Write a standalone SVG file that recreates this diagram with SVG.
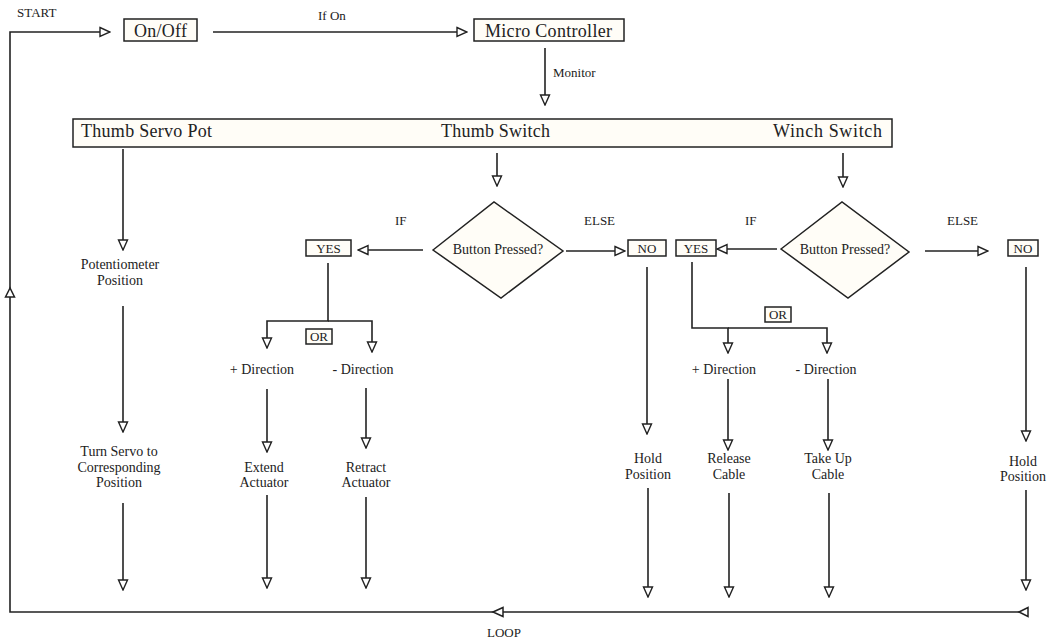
<svg xmlns="http://www.w3.org/2000/svg" width="1049" height="643" viewBox="0 0 1049 643">
<style>
text{font-family:"Liberation Serif","Times New Roman",serif;fill:#222;}
.s{font-size:13px;}
.m{font-size:14px;text-anchor:middle;}
.big{font-size:18px;}
.box{fill:#fffdf7;stroke:#222;stroke-width:1.5;}
.ln{fill:none;stroke:#222;stroke-width:1.6;}
.ar{fill:none;stroke:#222;stroke-width:1.6;marker-end:url(#ah);}
.hd{fill:#fff;stroke:#222;stroke-width:1.5;}
</style>
<defs>
<marker id="ah" viewBox="-1 -1 12 12" markerWidth="12" markerHeight="12" refX="10" refY="5" orient="auto" markerUnits="userSpaceOnUse">
<path d="M0,0.5 L10,5 L0,9.5 z" fill="#fff" stroke="#222" stroke-width="1.4"/>
</marker>
</defs>
<rect width="1049" height="643" fill="#fff"/>
<g id="connectors">
<path class="ar" d="M1027,612 H10 V32 H110"/>
<polygon class="hd" points="1019,612 1028,607.5 1028,616.5"/>
<polygon class="hd" points="493,612 503,607.5 503,616.5"/>
<polygon class="hd" points="10,288 5.5,297 14.5,297"/>
<line class="ar" x1="213" y1="32" x2="467" y2="32"/>
<line class="ar" x1="545" y1="48" x2="545" y2="105"/>
<line class="ar" x1="123" y1="149" x2="123" y2="250"/>
<line class="ar" x1="123" y1="306" x2="123" y2="432"/>
<line class="ar" x1="123" y1="503" x2="123" y2="590"/>
<line class="ar" x1="497" y1="153" x2="497" y2="186"/>
<line class="ar" x1="843" y1="153" x2="843" y2="187"/>
<line class="ar" x1="423" y1="250" x2="358" y2="250"/>
<line class="ar" x1="566" y1="251" x2="625" y2="251"/>
<path class="ar" d="M328,263 V321 H267 V348"/>
<path class="ar" d="M328,321 H372 V352"/>
<line class="ar" x1="267" y1="389" x2="267" y2="452"/>
<line class="ar" x1="366" y1="388" x2="366" y2="448"/>
<line class="ar" x1="267" y1="495" x2="267" y2="588"/>
<line class="ar" x1="366" y1="497" x2="366" y2="588"/>
<line class="ar" x1="647" y1="267" x2="647" y2="434"/>
<line class="ar" x1="648" y1="488" x2="648" y2="597"/>
<line class="ar" x1="777" y1="249" x2="717" y2="249"/>
<line class="ar" x1="925" y1="251" x2="988" y2="251"/>
<path class="ar" d="M692,262 V328 H728 V353"/>
<path class="ar" d="M728,328 H827 V353"/>
<line class="ar" x1="728" y1="379" x2="728" y2="450"/>
<line class="ar" x1="828" y1="379" x2="828" y2="450"/>
<line class="ar" x1="729" y1="493" x2="729" y2="597"/>
<line class="ar" x1="829" y1="493" x2="829" y2="597"/>
<line class="ar" x1="1026" y1="267" x2="1026" y2="441"/>
<line class="ar" x1="1026" y1="490" x2="1026" y2="590"/>
</g>
<g id="labels">
<text class="s" x="17" y="17">START</text>
<text class="s" x="318" y="20">If On</text>
<text class="s" x="553" y="77">Monitor</text>
<text class="s" x="395" y="225">IF</text>
<text class="s" x="584" y="225">ELSE</text>
<text class="s" x="745" y="225">IF</text>
<text class="s" x="947" y="225">ELSE</text>
<text class="s" x="487" y="637">LOOP</text>
</g>
<g id="onoff"><rect class="box" x="124" y="19" width="73" height="22"/><text class="big" x="134" y="37" textLength="53">On/Off</text></g>
<g id="micro"><rect class="box" x="474" y="19" width="150" height="22"/><text class="big" x="485" y="37" textLength="127">Micro Controller</text></g>
<g id="inputs"><rect class="box" x="73" y="119" width="819" height="28"/>
<text class="big" x="81" y="137" textLength="131">Thumb Servo Pot</text>
<text class="big" x="441" y="137" textLength="109">Thumb Switch</text>
<text class="big" x="773" y="137" textLength="109">Winch Switch</text></g>
<g id="pot"><text class="m" x="120" y="269">Potentiometer</text><text class="m" x="120" y="285">Position</text></g>
<g id="turnservo"><text class="m" x="119" y="456">Turn Servo to</text><text class="m" x="119" y="472">Corresponding</text><text class="m" x="119" y="487">Position</text></g>
<g id="thumbdecision"><polygon class="box" points="433,250 494,202 563,251 501,298"/><text class="m" x="498" y="254">Button Pressed?</text></g>
<g id="thumbyes"><rect class="box" x="306" y="240" width="45" height="16"/><text class="s" x="328.5" y="253" text-anchor="middle">YES</text></g>
<g id="thumbno"><rect class="box" x="628" y="240" width="38" height="16"/><text class="s" x="647" y="253" text-anchor="middle">NO</text></g>
<g id="or1"><rect class="box" x="306" y="329" width="26" height="15"/><text class="s" x="319" y="341" text-anchor="middle">OR</text></g>
<g id="plus1"><text class="m" x="262" y="374">+ Direction</text></g>
<g id="minus1"><text class="m" x="363" y="374">- Direction</text></g>
<g id="extend"><text class="m" x="264" y="472">Extend</text><text class="m" x="264" y="487">Actuator</text></g>
<g id="retract"><text class="m" x="366" y="472">Retract</text><text class="m" x="366" y="487">Actuator</text></g>
<g id="hold1"><text class="m" x="648" y="463">Hold</text><text class="m" x="648" y="479">Position</text></g>
<g id="winchdecision"><polygon class="box" points="781,249 842,202 909,252 848,298"/><text class="m" x="845" y="254">Button Pressed?</text></g>
<g id="winchyes"><rect class="box" x="676" y="240" width="40" height="16"/><text class="s" x="696" y="253" text-anchor="middle">YES</text></g>
<g id="winchno"><rect class="box" x="1008" y="240" width="30" height="16"/><text class="s" x="1023" y="253" text-anchor="middle">NO</text></g>
<g id="or2"><rect class="box" x="765" y="307" width="26" height="15"/><text class="s" x="778" y="319" text-anchor="middle">OR</text></g>
<g id="plus2"><text class="m" x="724" y="374">+ Direction</text></g>
<g id="minus2"><text class="m" x="826" y="374">- Direction</text></g>
<g id="release"><text class="m" x="729" y="463">Release</text><text class="m" x="729" y="479">Cable</text></g>
<g id="takeup"><text class="m" x="828" y="463">Take Up</text><text class="m" x="828" y="479">Cable</text></g>
<g id="hold2"><text class="m" x="1023" y="466">Hold</text><text class="m" x="1023" y="481">Position</text></g>
</svg>
